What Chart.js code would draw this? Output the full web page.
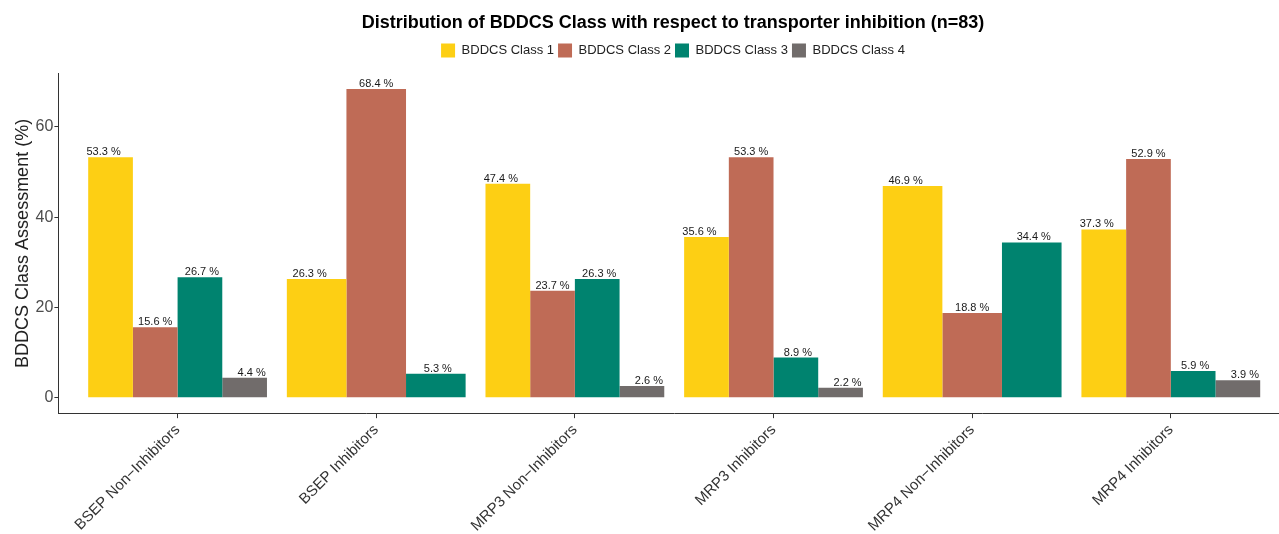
<!doctype html>
<html lang="en">
<head>
<meta charset="utf-8">
<title>BDDCS Class distribution</title>
<script src="https://cdn.jsdelivr.net/npm/chart.js@4.4.1/dist/chart.umd.min.js"></script>
<style>
    html, body { margin: 0; padding: 0; background: #fff; overflow: hidden; }
    /* wider than the window on purpose: the panel runs past the right edge like the original */
    #wrap { width: 1341px; height: 534px; }
</style>
</head>
<body>
<div id="wrap"><canvas id="bddcs"></canvas></div>

<script>
    // data
    var groups = ["BSEP Non\u2212Inhibitors", "BSEP Inhibitors", "MRP3 Non\u2212Inhibitors",
                  "MRP3 Inhibitors", "MRP4 Non\u2212Inhibitors", "MRP4 Inhibitors"];
    var class1 = [53.3, 26.3, 47.4, 35.6, 46.9, 37.3];
    var class2 = [15.6, 68.4, 23.7, 53.3, 18.8, 52.9];
    var class3 = [26.7, 5.3, 26.3, 8.9, 34.4, 5.9];
    var class4 = [4.4, null, 2.6, 2.2, null, 3.9];
    var seriesNames = ["BDDCS Class 1", "BDDCS Class 2", "BDDCS Class 3", "BDDCS Class 4"];
    var yTicks = [0, 20, 40, 60];

    var colors = ["#FDCF14", "#BF6B56", "#00836F", "#716C6B"];
    var labelShift = [-7, 0, 2, 7];   // ggplot text dodge looks a bit off-centre

    function toPoints(vals) {
        return vals.map(function (v, i) { return {x: i + 1, y: v}; });
    }

    var datasets = [class1, class2, class3, class4].map(function (vals, k) {
        return {
            label: seriesNames[k],
            data: toPoints(vals),
            xAxisID: "x",
            yAxisID: "y",
            backgroundColor: colors[k],
            borderWidth: 0,
            categoryPercentage: 0.9,
            barPercentage: 1.0,
            skipNull: true
        };
    });

    // "53.3 %" style labels on top of each bar
    var valueLabels = {
        id: "valueLabels",
        afterDatasetsDraw: function (chart) {
            var ctx = chart.ctx;
            ctx.save();
            ctx.font = "11px 'Liberation Sans', Arial, sans-serif";
            ctx.fillStyle = "#1a1a1a";
            ctx.textAlign = "center";
            ctx.textBaseline = "alphabetic";
            chart.data.datasets.forEach(function (ds, k) {
                var meta = chart.getDatasetMeta(k);
                meta.data.forEach(function (bar, i) {
                    var v = ds.data[i].y;
                    if (v === null) return;
                    ctx.fillText(v.toFixed(1) + " %", bar.x + labelShift[k], bar.y - 2);
                });
            });
            ctx.restore();
        }
    };

    Chart.defaults.font.family = "'Liberation Sans', Arial, sans-serif";

    new Chart("bddcs", {
        type: "bar",
        data: { datasets: datasets },
        plugins: [valueLabels],
        options: {
            responsive: true,
            maintainAspectRatio: false,
            animation: false,
            layout: { padding: { left: 5, right: 0, top: 0, bottom: 0 } },
            plugins: {
                title: {
                    display: true,
                    text: "Distribution of BDDCS Class with respect to transporter inhibition (n=83)",
                    color: "#000",
                    font: { size: 18, weight: "bold" },
                    padding: { top: 12, bottom: 6 }
                },
                legend: {
                    display: true,
                    labels: {
                        boxWidth: 14,
                        boxHeight: 14,
                        padding: 4,
                        color: "#222",
                        font: { size: 13 }
                    }
                },
                tooltip: { enabled: false }
            },
            scales: {
                x: {
                    type: "linear",
                    min: 0.4,
                    max: 6.6,
                    offset: false,
                    afterBuildTicks: function (axis) {
                        axis.ticks = groups.map(function (g, i) { return {value: i + 1}; });
                    },
                    afterFit: function (axis) { axis.height -= 4; },
                    ticks: {
                        autoSkip: false,
                        minRotation: 45,
                        maxRotation: 45,
                        color: "#333",
                        font: { size: 15 },
                        callback: function (value) { return groups[value - 1]; }
                    },
                    grid: { offset: false, drawOnChartArea: false, drawTicks: true, tickLength: 5, color: "#333" },
                    border: { display: true, color: "#333", width: 1 }
                },
                y: {
                    min: -3.42,
                    max: 71.82,
                    afterBuildTicks: function (axis) {
                        axis.ticks = yTicks.map(function (v) { return {value: v}; });
                    },
                    ticks: { color: "#4d4d4d", font: { size: 16 }, padding: 1 },
                    grid: { drawOnChartArea: false, drawTicks: true, tickLength: 4, color: "#333" },
                    border: { display: true, color: "#333", width: 1 },
                    title: {
                        display: true,
                        text: "BDDCS Class Assessment (%)",
                        color: "#222",
                        font: { size: 18 },
                        padding: { top: 7, bottom: 1 }
                    }
                },
                // empty strips: gap under the legend, and room on the right so
                // title/legend centre on the panel rather than the canvas
                gap: {
                    type: "linear",
                    position: "top",
                    axis: "x",
                    display: true,
                    afterFit: function (axis) { axis.height = 6; },
                    ticks: { display: false },
                    grid: { display: false },
                    border: { display: false }
                },
                side: {
                    type: "linear",
                    position: "right",
                    axis: "y",
                    display: true,
                    afterFit: function (axis) { axis.width = 51; },
                    ticks: { display: false },
                    grid: { display: false },
                    border: { display: false }
                }
            }
        }
    });
</script>
</body>
</html>
